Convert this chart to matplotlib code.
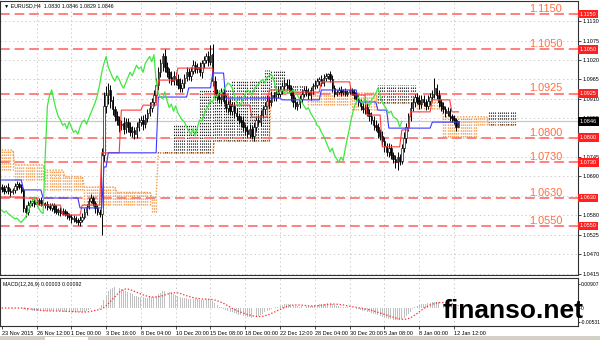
import numpy as np
import pandas as pd
import matplotlib
matplotlib.use("Agg")
import matplotlib.pyplot as plt
import matplotlib.transforms as mtransforms
from matplotlib.patches import Rectangle

plt.rcParams['font.family'] = ['Liberation Sans', 'DejaVu Sans']
plt.rcParams['lines.scale_dashes'] = False

# EURUSD H4 -- prices stored as pips above 1.0000
first_open = 660
close_pips = [
    655, 650, 660, 648, 645, 652, 662, 668, 660, 650,
    600, 590, 610, 615, 620, 612, 618, 622, 615, 610,
    612, 605, 600, 608, 598, 590, 595, 588, 592, 585,
    580, 575, 570, 572, 565, 560, 568, 575, 590, 605,
    620, 628, 615, 600, 590, 585, 750, 890, 920, 935,
    905, 880, 860, 850, 835, 840, 825, 845, 830, 815,
    820, 810, 830, 845, 850, 838, 855, 870, 885, 900,
    920, 950, 985, 1010, 1030, 1000, 985, 970, 960, 975,
    965, 950, 940, 955, 970, 985, 975, 990, 1005, 995,
    1000, 985, 1010, 1020, 1030, 1015, 1035, 960, 925, 915,
    910, 930, 905, 885, 895, 875, 890, 870, 860, 850,
    845, 830, 820, 810, 825, 805, 830, 850, 845, 865,
    880, 890, 905, 900, 920, 915, 930, 925, 935, 945,
    955, 950, 940, 920, 900, 890, 895, 910, 925, 935,
    930, 920, 935, 945, 950, 960, 965, 955, 970, 975,
    980, 965, 940, 925, 930, 935, 928, 932, 925, 930,
    935, 928, 920, 910, 900, 890, 880, 885, 870, 860,
    850, 835, 830, 815, 805, 790, 775, 760, 770, 750,
    740, 730, 745, 735, 770, 800, 830, 860, 885, 900,
    915, 905, 895, 910, 900, 890, 905, 915, 925, 940,
    920, 900, 890, 880, 870, 875, 860, 855, 850, 830, 846,
]
up_wick = [
    8, 10, 6, 12, 8, 6, 10, 8, 6, 10,
    6, 8, 10, 8, 6, 10, 8, 6, 10, 8,
    6, 8, 10, 6, 8, 10, 6, 8, 10, 6,
    8, 6, 10, 8, 6, 8, 10, 12, 10, 8,
    10, 12, 8, 6, 10, 8, 20, 40, 25, 20,
    15, 12, 10, 15, 12, 10, 18, 12, 10, 15,
    12, 10, 15, 12, 10, 15, 12, 10, 15, 12,
    15, 20, 15, 12, 11, 20, 15, 12, 18, 15,
    12, 15, 18, 12, 10, 15, 12, 10, 15, 12,
    12, 15, 10, 12, 10, 15, 27, 30, 15, 12,
    15, 12, 20, 15, 12, 15, 10, 12, 15, 10,
    12, 15, 10, 12, 15, 10, 12, 10, 15, 12,
    10, 12, 15, 10, 12, 10, 12, 15, 10, 12,
    10, 12, 15, 10, 12, 15, 10, 12, 10, 8,
    10, 12, 8, 10, 12, 10, 8, 12, 10, 8,
    3, 10, 12, 8, 6, 8, 10, 6, 8, 6,
    8, 6, 10, 8, 12, 10, 15, 10, 12, 10,
    12, 10, 15, 12, 10, 15, 12, 10, 15, 12,
    10, 12, 15, 10, 12, 15, 12, 10, 15, 12,
    10, 12, 15, 10, 12, 10, 15, 12, 10, 29,
    12, 15, 10, 12, 10, 12, 10, 8, 10, 6, 0,
]
dn_wick = [
    8, 10, 6, 8, 12, 6, 8, 10, 6, 8,
    10, 15, 8, 6, 10, 8, 6, 10, 8, 6,
    8, 10, 6, 8, 10, 6, 8, 10, 6, 8,
    10, 8, 12, 10, 8, 6, 10, 8, 6, 10,
    8, 6, 10, 12, 8, 10, 61, 15, 20, 25,
    20, 15, 12, 15, 20, 12, 15, 12, 15, 10,
    12, 15, 12, 10, 12, 15, 10, 12, 10, 12,
    10, 12, 15, 12, 20, 15, 12, 15, 10, 12,
    15, 12, 10, 12, 15, 10, 12, 15, 10, 12,
    12, 10, 15, 12, 10, 12, 10, 15, 12, 10,
    12, 15, 10, 12, 15, 10, 12, 15, 10, 12,
    15, 10, 12, 8, 12, 10, 15, 12, 10, 12,
    10, 12, 10, 15, 10, 12, 10, 12, 10, 12,
    10, 12, 10, 15, 12, 10, 12, 10, 12, 10,
    12, 10, 12, 10, 8, 10, 12, 10, 8, 10,
    10, 8, 12, 10, 8, 6, 10, 8, 6, 8,
    6, 8, 10, 8, 10, 12, 10, 12, 10, 12,
    10, 12, 10, 15, 12, 10, 15, 12, 15, 10,
    12, 15, 21, 12, 10, 12, 15, 10, 12, 10,
    12, 10, 15, 12, 10, 12, 10, 12, 10, 12,
    10, 12, 15, 10, 12, 10, 12, 10, 12, 10, 1,
]

# Ichimoku lines as (bars, pips) runs
tenkan_runs = [(10, 632), (7, 629), (11, 609), (9, 581), (9, 609), (9, 757),
               (10, 878), (7, 892), (9, 963), (17, 997), (7, 921), (10, 892),
               (8, 858), (10, 935), (14, 929), (14, 958), (7, 921), (7, 864),
               (9, 774), (4, 822), (10, 873), (9, 907), (4, 873)]
kijun_runs = [(10, 680), (9, 652), (17, 629), (11, 601), (2, 717), (23, 757),
              (14, 915), (11, 941), (6, 983), (26, 912), (18, 907), (17, 935),
              (9, 901), (5, 878), (20, 827), (13, 844)]
span_a_runs = [(6, 709), (14, 680), (18, 652), (31, 609), (3, 590), (7, 765),
               (12, 835), (15, 935), (15, 963), (10, 992), (10, 949), (20, 892),
               (12, 878), (18, 949), (12, 880), (16, 802), (5, 836), (13, 873)]
span_b_runs = [(6, 765), (14, 723), (9, 708), (9, 690), (15, 660), (16, 645),
               (3, 632), (26, 757), (26, 790), (49, 926), (18, 898), (12, 900),
               (21, 859), (13, 836)]

levels = [1.1150, 1.1050, 1.0925, 1.0800, 1.0730, 1.0630, 1.0550]
price_ticks = [1.1130, 1.1075, 1.1020, 1.0965, 1.0910, 1.0855, 1.0800,
               1.0745, 1.0690, 1.0635, 1.0580, 1.0525, 1.0470, 1.0415]
hidden_ticks = [1.0800, 1.0635]   # covered by the level boxes
date_labels = ['23 Nov 2015', '26 Nov 12:00', '1 Dec 00:00', '3 Dec 16:00',
               '8 Dec 04:00', '10 Dec 20:00', '15 Dec 08:00', '18 Dec 00:00',
               '22 Dec 12:00', '28 Dec 04:00', '30 Dec 20:00', '5 Jan 08:00',
               '8 Jan 00:00', '12 Jan 12:00']
macd_labels = [0.00907, 0.0, -0.00531]
last_price = 1.0846
title = '\u25bc EURUSD,H4  1.0830 1.0846 1.0829 1.0846'
macd_title = 'MACD(12,26,9) 0.00003 0.00092'


def runs(r):
    return np.concatenate([np.full(n, v, dtype=float) for n, v in r])


close = 1 + np.array(close_pips) / 10000
opn = np.r_[1 + first_open / 10000, close[:-1]]
high = np.maximum(opn, close) + np.array(up_wick) / 10000
low = np.minimum(opn, close) - np.array(dn_wick) / 10000
x = np.arange(len(close))

tenkan = 1 + runs(tenkan_runs) / 10000
kijun = 1 + runs(kijun_runs) / 10000
span_a = 1 + runs(span_a_runs) / 10000
span_b = 1 + runs(span_b_runs) / 10000
xc = np.arange(len(span_a))

# MACD as MT4 does it: EMA12-EMA26 histogram, SMA9 signal
s = pd.Series(close)
macd = (s.ewm(span=12, adjust=False).mean() - s.ewm(span=26, adjust=False).mean()).values
signal = pd.Series(macd).rolling(9, min_periods=1).mean().values

fig = plt.figure(figsize=(6, 3.4), dpi=100)
ax = fig.add_axes([0, 65 / 340, 578 / 600, 274 / 340])
ax2 = fig.add_axes([0, 14 / 340, 578 / 600, 48 / 340], sharex=ax)

grid_kw = dict(color='#c4c4c4', lw=0.6, ls=(0, (1, 2)), zorder=0)
date_pos = np.arange(len(date_labels)) * 16
for a in (ax, ax2):
    for d in date_pos[1:]:
        a.axvline(d, **grid_kw)
for p in price_ticks:
    ax.axhline(p, **grid_kw)

# cloud, hatched with dotted verticals like MT4
dots = (0, (1, 1.1))
down = span_a < span_b
ax.vlines(xc[down], span_a[down], span_b[down], color='#f39a4a', lw=1.0,
          linestyles=[dots], zorder=1)
ax.vlines(xc[~down], span_b[~down], span_a[~down], color='#2a2a2a', lw=0.8,
          linestyles=[dots], zorder=1)
ax.plot(xc, span_b, color='#f39a4a', lw=1.0, ls=dots, zorder=1)

ax.axhline(last_price, color='#c8c8c8', lw=0.9, zorder=1)

for lv in levels:
    ax.axhline(lv, color='#ff8080', lw=1.4, dashes=(7, 3.5), zorder=2)
    ax.text(250, lv + 0.0006, f'{lv:.4f}', color='#ff6e45', fontsize=7.8,
            ha='center', va='baseline', zorder=6)

bull = close >= opn
ax.vlines(x, low, high, color='black', lw=0.7, zorder=4)
ax.bar(x[bull], (close - opn)[bull], bottom=opn[bull], width=0.7,
       color='white', edgecolor='black', lw=0.45, zorder=5)
ax.bar(x[~bull], (opn - close)[~bull] + 0.00005, bottom=close[~bull], width=0.7,
       color='black', edgecolor='black', lw=0.45, zorder=5)

ax.plot(x, tenkan, color='#ff3b3b', lw=0.8, zorder=6)
ax.plot(x, kijun, color='#3a3aff', lw=0.8, zorder=6)
ax.plot(x[:-26], close[26:], color='#3ee83e', lw=0.9, zorder=6)

ax.set_xlim(-0.8, 265)
ax.set_ylim(1.0411, 1.1187)
ax.yaxis.tick_right()
ax.set_yticks(price_ticks)
ax.set_yticklabels(['' if p in hidden_ticks else f'{p:.4f}' for p in price_ticks])
ax.tick_params(axis='y', labelsize=4.0, length=2, width=0.5, pad=1.2)
ax.tick_params(axis='x', bottom=False, labelbottom=False)

tr = mtransforms.blended_transform_factory(ax.transAxes, ax.transData)
for lv in levels:
    ax.text(1.003, lv, f'{lv:.4f}', transform=tr, fontsize=4.0, color='white',
            va='center', ha='left', clip_on=False, zorder=10,
            bbox=dict(boxstyle='square,pad=0.3', fc='#ff2020', ec='none'))
ax.text(1.003, last_price, f'{last_price:.4f}', transform=tr, fontsize=4.0,
        color='white', va='center', ha='left', clip_on=False, zorder=10,
        bbox=dict(boxstyle='square,pad=0.3', fc='black', ec='none'))

# MACD panel
ax2.bar(x, macd, width=0.45, color='#c0c0c0', zorder=2)
ax2.plot(x, signal, color='#ff3030', lw=0.9, ls=(0, (1, 1.3)), zorder=3)
ax2.set_ylim(-0.0068, 0.0113)
ax2.yaxis.tick_right()
ax2.set_yticks(macd_labels)
ax2.set_yticklabels(['0.00907', '0', '-0.00531'])
ax2.tick_params(axis='y', labelsize=3.6, length=1.5, width=0.5, pad=0.6)
ax2.set_xticks(date_pos)
ax2.set_xticklabels(date_labels, ha='left')
ax2.tick_params(axis='x', labelsize=4.0, length=2, width=0.5, pad=1.5)
ax2.text(0.006, 0.86, macd_title, transform=ax2.transAxes, fontsize=3.8,
         va='center', ha='left')

for a in (ax, ax2):
    for sp in a.spines.values():
        sp.set_linewidth(0.8)
        sp.set_color('#303030')

fig.text(4 / 600, 1 - 6 / 340, title, fontsize=3.8, va='center', ha='left')
fig.text(513 / 600, 29 / 340, 'finanso.net', fontsize=19, fontweight='bold',
         ha='center', va='center', color='black')

# terminal tab strip along the bottom edge
fig.patches.append(Rectangle((0, 0), 1, 4 / 340, transform=fig.transFigure,
                             facecolor='#d4d0c8', edgecolor='none'))
fig.patches.append(Rectangle((45 / 600, 0), 43 / 600, 3 / 340, transform=fig.transFigure,
                             facecolor='white', edgecolor='none'))

fig.savefig('out.png', dpi=100, facecolor='white')
